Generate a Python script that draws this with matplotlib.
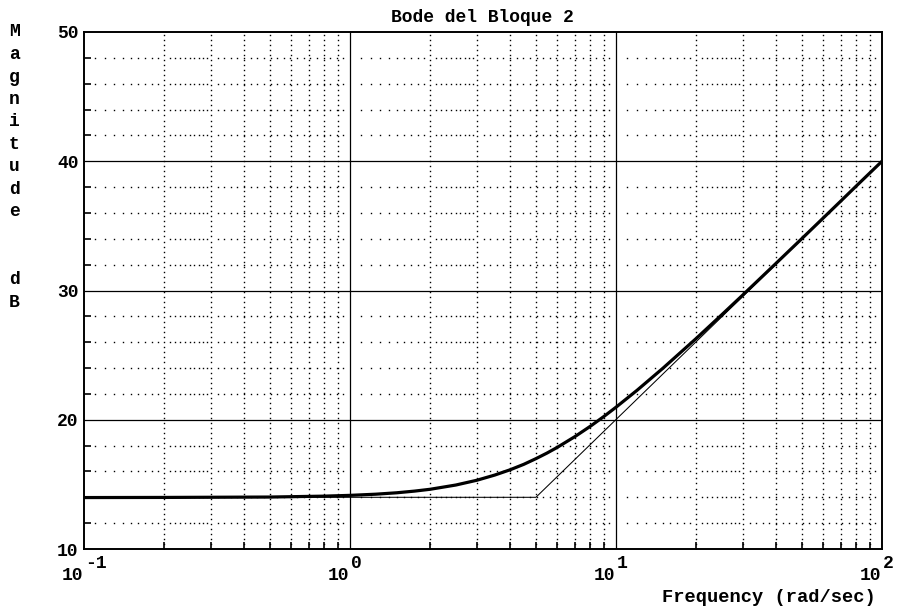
import matplotlib
matplotlib.use("Agg")
import numpy as np
import matplotlib.pyplot as plt
from matplotlib.ticker import FixedLocator, NullFormatter

FONT = ['Liberation Mono', 'DejaVu Sans Mono']
plt.rcParams['font.family'] = FONT
plt.rcParams['font.weight'] = 'bold'

# Data
freq = [0.1, 0.2, 0.5, 0.8, 1.0, 1.25, 1.5, 1.75, 2.0, 2.5, 3.0, 3.5, 4.0, 4.5,
        5.0, 5.5, 6.0, 7.0, 8.0, 9.0, 10.0, 12.0, 15.0, 20.0, 25.0, 30.0, 40.0,
        50.0, 60.0, 70.0, 80.0, 100.0]
mag_db = [13.98, 13.99, 14.02, 14.09, 14.15, 14.24, 14.35, 14.48, 14.62, 14.95,
          15.32, 15.72, 16.13, 16.55, 16.99, 17.42, 17.85, 18.69, 19.49, 20.25,
          20.97, 22.28, 23.98, 26.28, 28.13, 29.66, 32.11, 34.02, 35.59, 36.92,
          38.08, 40.0]
asym_freq = [0.1, 5.0, 100.0]
asym_db = [14.0, 14.0, 40.0]

x_major = [0.1, 1, 10, 100]
x_exponents = ['-1', '0', '1', '2']
y_major = [10, 20, 30, 40, 50]
y_minor = [12, 14, 16, 18, 22, 24, 26, 28, 32, 34, 36, 38, 42, 44, 46, 48]

title = "Bode del Bloque 2"
xlabel = "Frequency (rad/sec)"
ylabel = "Magnitude  dB"

W, H = 897, 610
fig = plt.figure(figsize=(W / 100, H / 100), dpi=100)
L, R, T, B = 84, 882, 32, 549
ax = fig.add_axes([L / W, (H - B) / H, (R - L) / W, (B - T) / H])
ax.set_xscale('log')
ax.set_xlim(0.1, 100)
ax.set_ylim(10, 50)

decades = [0.1, 1, 10]
x_minor = [m * d for d in decades for m in range(2, 10)]

# dotted vertical grid (dots every ~5 px)
ydots = np.arange(10, 50.01, 0.39)
vx, vy = [], []
for xv in x_minor:
    vx.extend([xv] * len(ydots))
    vy.extend(ydots)
ax.plot(vx, vy, linestyle='none', marker='s', markersize=1.0, mew=0,
        color='black', zorder=1, antialiased=False)

# dotted horizontal grid (dot layout repeats in every decade)
hx_dec = []
for d in decades:
    hx_dec.extend(d * (1 + 0.1 * np.arange(1, 20)))
    hx_dec.extend(d * 10 ** np.linspace(np.log10(3), 1, 22)[1:-1])
hx_dec = [v for v in hx_dec if v not in x_minor]
hx, hy = [], []
for yv in y_minor:
    hx.extend(hx_dec)
    hy.extend([yv] * len(hx_dec))
ax.plot(hx, hy, linestyle='none', marker='s', markersize=1.0, mew=0,
        color='black', zorder=1, antialiased=False)

for xv in x_major[1:-1]:
    ax.axvline(xv, color='black', lw=0.9, zorder=2)
for yv in y_major[1:-1]:
    ax.axhline(yv, color='black', lw=0.9, zorder=2)

ax.plot(asym_freq, asym_db, color='black', lw=0.75, zorder=3)
ax.plot(freq, mag_db, color='black', lw=2.3, zorder=4, solid_capstyle='round')

ax.xaxis.set_major_locator(FixedLocator(x_major))
ax.xaxis.set_minor_locator(FixedLocator(x_minor))
ax.xaxis.set_major_formatter(NullFormatter())
ax.xaxis.set_minor_formatter(NullFormatter())
ax.yaxis.set_major_locator(FixedLocator(y_major))
ax.yaxis.set_minor_locator(FixedLocator(y_minor))
ax.set_yticklabels([str(v) for v in y_major], fontsize=13, fontweight='bold')
ax.tick_params(which='major', length=0, pad=4)
ax.tick_params(which='minor', direction='in', length=5, width=1.2, color='black')

for s in ax.spines.values():
    s.set_linewidth(1.4)
    s.set_color('black')

# x tick labels: "10" with raised exponent of the same size
for xv, ex in zip(x_major, x_exponents):
    px = L + (np.log10(xv) + 1) / 3 * (R - L)
    fig.text((px - 1) / W, 1 - 576 / H, "10", ha='right', va='center',
             fontsize=13, fontweight='bold')
    fig.text((px + 1) / W, 1 - 563 / H, ex, ha='left', va='center',
             fontsize=13, fontweight='bold')

fig.text(482 / W, 1 - 17 / H, title, ha='center', va='center', fontsize=13, fontweight='bold')
fig.text(876 / W, 1 - 598 / H, xlabel, ha='right', va='center', fontsize=13.5, fontweight='bold')

y0 = 32
step = 22.5
for i, ch in enumerate(ylabel):
    if ch == ' ':
        continue
    fig.text(14 / W, 1 - (y0 + i * step) / H, ch, ha='center', va='center',
             fontsize=13, fontweight='bold')

fig.savefig("out.png", dpi=100)
